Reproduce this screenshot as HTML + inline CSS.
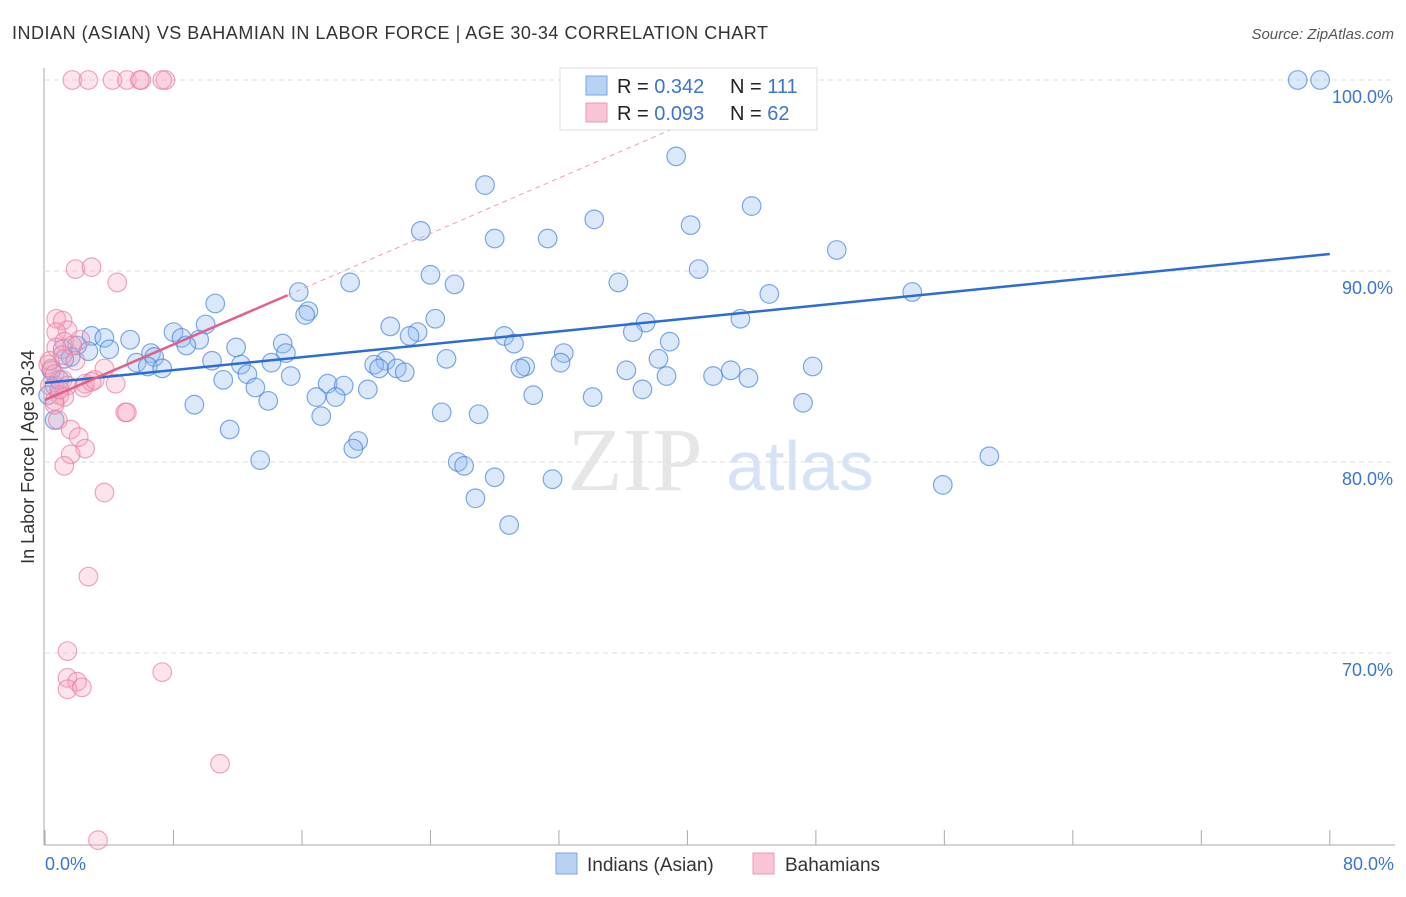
<!DOCTYPE html>
<html><head><meta charset="utf-8"><style>
body{margin:0;background:#fff;font-family:"Liberation Sans",sans-serif}
</style></head><body>
<svg id="c" width="1406" height="892" xmlns="http://www.w3.org/2000/svg">
<text x="12" y="39" font-size="18" fill="#333" textLength="756">INDIAN (ASIAN) VS BAHAMIAN IN LABOR FORCE | AGE 30-34 CORRELATION CHART</text>
<text x="1394" y="39" font-size="15" fill="#555" font-style="italic" text-anchor="end">Source: ZipAtlas.com</text>
<text x="635" y="490" font-size="90" fill="#e6e6e6" font-family="Liberation Serif" text-anchor="middle">ZIP</text>
<text x="800" y="490" font-size="70" fill="#d6e3f5" text-anchor="middle">atlas</text>
<g id="grid"></g><g id="pts"></g><g id="lines"></g>
<text transform="translate(34,457) rotate(-90)" font-size="18" fill="#333" text-anchor="middle">In Labor Force | Age 30-34</text>
<g>
<rect x="560" y="68" width="257" height="62" fill="#fff" stroke="#ddd"/>
<rect x="586" y="76" width="21" height="19" fill="#b8d2f4" stroke="#7aa6e0"/>
<rect x="586" y="103" width="21" height="19" fill="#f9c4d4" stroke="#eb9ab4"/>
<text x="617" y="93" font-size="20" fill="#222">R = <tspan fill="#3a75d0">0.342</tspan><tspan x="730">N = </tspan><tspan fill="#3a75d0">111</tspan></text>
<text x="617" y="120" font-size="20" fill="#222">R = <tspan fill="#3a75d0">0.093</tspan><tspan x="730">N = </tspan><tspan fill="#3a75d0">62</tspan></text>
</g>
<g>
<rect x="556" y="853" width="21" height="21" fill="#b8d2f4" stroke="#7aa6e0"/>
<text x="587" y="871" font-size="19" fill="#333">Indians (Asian)</text>
<rect x="753" y="853" width="21" height="21" fill="#f9c4d4" stroke="#eb9ab4"/>
<text x="785" y="871" font-size="19" fill="#333">Bahamians</text>
</g>
</svg>
<script>
const xTicks=[0,10,20,30,40,50,60,70,80];
const yTicks=[100,90,80,70];
const yTickLabels=["100.0%","90.0%","80.0%","70.0%"];
const blueX=[78.0,79.4,46.8,39.3,27.4,44.0,34.2,23.4,40.2,28.0,31.3,49.3,40.7,24.0,35.7,19.0,25.5,15.8,45.1,54.0,10.6,16.4,16.2,24.3,43.3,37.4,10.0,21.5,36.6,28.6,2.9,8.0,23.2,22.7,3.7,5.3,8.5,38.9,9.6,29.2,2.0,1.1,4.0,8.8,11.9,14.8,6.6,32.3,2.7,1.6,6.8,15.0,25.0,10.4,38.2,21.2,32.1,5.7,6.4,12.2,14.1,20.5,20.8,21.9,29.9,29.6,7.3,22.4,47.8,42.7,36.2,15.3,12.6,41.6,43.8,38.7,11.1,17.6,18.6,13.1,20.1,37.2,30.4,16.9,18.1,13.9,34.1,9.3,24.7,47.2,27.0,17.2,11.5,19.5,19.2,13.4,25.7,26.1,58.8,28.0,31.6,55.9,26.8,28.9,0.6,0.4,0.9,0.6,1.2,0.2];
const blueY=[100,100,100,96.0,94.5,93.4,92.7,92.1,92.4,91.7,91.7,91.1,90.1,89.8,89.4,89.4,89.3,88.9,88.8,88.9,88.3,87.9,87.7,87.5,87.5,87.3,87.2,87.1,86.8,86.6,86.6,86.8,86.8,86.6,86.5,86.4,86.5,86.3,86.4,86.2,86.1,85.9,85.9,86.1,86.0,86.2,85.7,85.7,85.8,85.5,85.5,85.7,85.4,85.3,85.4,85.3,85.2,85.2,85.0,85.1,85.2,85.1,84.9,84.9,85.0,84.9,84.9,84.7,85.0,84.8,84.8,84.5,84.6,84.5,84.4,84.5,84.3,84.1,84.0,83.9,83.8,83.8,83.5,83.4,83.4,83.2,83.4,83.0,82.6,83.1,82.5,82.4,81.7,81.1,80.7,80.1,80.0,79.8,80.3,79.2,79.1,78.8,78.1,76.7,84.0,84.8,84.3,82.2,85.4,83.5];
const pinkX=[1.7,2.7,4.2,5.1,6.0,5.9,7.5,7.3,1.9,2.9,4.5,0.7,1.1,1.4,0.7,1.2,2.2,1.7,0.7,0.2,0.4,0.6,1.1,0.3,1.4,2.5,2.4,2.9,4.4,3.7,3.1,0.9,1.2,0.6,5.0,5.1,0.8,1.6,2.1,2.5,1.6,1.2,3.7,2.7,1.4,1.4,2.0,1.4,2.3,7.3,10.9,3.3,0.6,0.3,1.1,1.9,0.9];
const pinkY=[100,100,100,100,100,100,100,100,90.1,90.2,89.4,87.5,87.4,86.9,86.8,86.3,86.4,86.1,86.0,85.1,84.9,84.6,84.3,84.0,84.0,84.1,83.9,84.2,84.1,84.9,84.3,83.5,83.4,83.2,82.6,82.6,82.2,81.7,81.3,80.7,80.4,79.8,78.4,74.0,70.1,68.7,68.5,68.1,68.2,69.0,64.2,60.2,83.0,85.3,85.6,85.3,83.8];
const blueTrend=[84.14,90.89];
const pinkTrend=[83.25,0.363];
const X=v=>45+v*16.06, Y=v=>80+(100-v)*19.1;
const NS="http://www.w3.org/2000/svg";
function mk(t,a,p){const e=document.createElementNS(NS,t);for(const k in a)e.setAttribute(k,a[k]);p.appendChild(e);return e;}
const grid=document.getElementById('grid'),pts=document.getElementById('pts'),lines=document.getElementById('lines');
yTicks.forEach((v,i)=>{
 const l=mk('line',{x1:45,x2:1395,y1:Y(v),y2:Y(v),stroke:'#ddd','stroke-dasharray':'5,4'},grid);
 
 
 const t=mk('text',{x:1393,y:Y(v)+23,'font-size':18,fill:'#3a75d0','text-anchor':'end'},grid);t.textContent=yTickLabels[i];
 
 
});
const ax=mk('line',{x1:44,x2:44,y1:68,y2:845,stroke:'#aaa'},grid);


const bx=mk('line',{x1:44,x2:1395,y1:845,y2:845,stroke:'#aaa'},grid);


for(let k=0;k<=10;k++){const v=k*8;const t=mk('line',{x1:X(v),x2:X(v),y1:830,y2:845,stroke:'#aaa'},grid);
 
 }
[[0,'0.0%','start',45],[80,'80.0%','end',1394]].forEach(d=>{const t=mk('text',{x:d[3],y:870,'font-size':18,fill:'#3a75d0','text-anchor':d[2]},grid);t.textContent=d[1];
 
 });
blueX.forEach((x,i)=>{const c=mk('circle',{cx:X(x),cy:Y(blueY[i]),r:9.3,fill:'rgba(150,190,240,0.35)',stroke:'rgba(60,125,220,0.65)','stroke-width':1.2},pts);
 
 });
pinkX.forEach((x,i)=>{const c=mk('circle',{cx:X(x),cy:Y(pinkY[i]),r:9.3,fill:'rgba(246,165,190,0.3)',stroke:'rgba(232,120,160,0.65)','stroke-width':1.2},pts);
 
 });
const bl=mk('line',{x1:X(0),y1:Y(blueTrend[0]),x2:X(80),y2:Y(blueTrend[1]),stroke:'#2b6cd6','stroke-width':2.5},lines);


const pe=(100.5-pinkTrend[0])/pinkTrend[1];
const pd=mk('line',{x1:X(15.1),y1:Y(pinkTrend[0]+pinkTrend[1]*15.1),x2:X(pe),y2:Y(100.5),stroke:'#e8a0b8','stroke-width':1,'stroke-dasharray':'5,4'},lines);


const pl=mk('line',{x1:X(0),y1:Y(pinkTrend[0]),x2:X(15.1),y2:Y(pinkTrend[0]+pinkTrend[1]*15.1),stroke:'#e0608a','stroke-width':2.5},lines);


</script>
</body></html>
